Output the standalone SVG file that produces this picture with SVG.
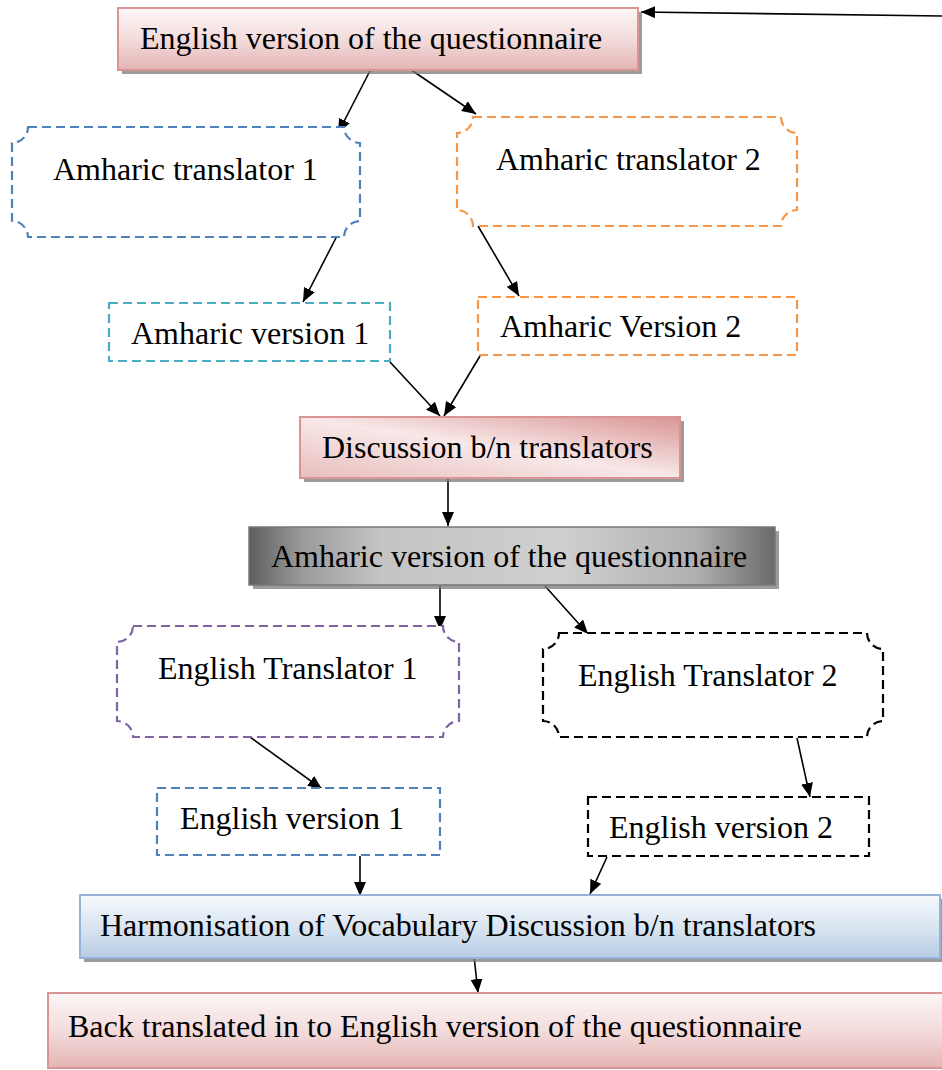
<svg xmlns="http://www.w3.org/2000/svg" width="942" height="1070" viewBox="0 0 942 1070">
  <defs>
    <style>
      text { font-family: "Liberation Serif", "Times New Roman", serif; font-size: 32px; fill: #000; }
      .conn line { stroke: #000; stroke-width: 1.6; marker-end: url(#arrow); }
      .shadow { fill: #7a7a7a; opacity: 0.75; }
      .dash { fill: #fff; stroke-width: 2.2; stroke-dasharray: 9 5; }
    </style>
    <marker id="arrow" viewBox="0 0 14 12" refX="14" refY="6" markerWidth="14" markerHeight="12" markerUnits="userSpaceOnUse" orient="auto">
      <path d="M0,0 L14,6 L0,12 Z" fill="#000"/>
    </marker>
    <linearGradient id="pinkV" x1="0" y1="0" x2="0" y2="1">
      <stop offset="0" stop-color="#fdf6f6"/>
      <stop offset="0.5" stop-color="#f3dcdc"/>
      <stop offset="1" stop-color="#e4b4b3"/>
    </linearGradient>
    <linearGradient id="pinkD" x1="0" y1="1" x2="1" y2="0">
      <stop offset="0" stop-color="#e8bebd"/>
      <stop offset="0.5" stop-color="#f8e8e8"/>
      <stop offset="1" stop-color="#d99594"/>
    </linearGradient>
    <linearGradient id="grayH" x1="0" y1="0" x2="1" y2="0">
      <stop offset="0" stop-color="#5e5e5e"/>
      <stop offset="0.1" stop-color="#9a9a9a"/>
      <stop offset="0.25" stop-color="#c4c4c4"/>
      <stop offset="0.6" stop-color="#cfcfcf"/>
      <stop offset="0.85" stop-color="#b0b0b0"/>
      <stop offset="1" stop-color="#6a6a6a"/>
    </linearGradient>
    <linearGradient id="blueV" x1="0" y1="0" x2="0" y2="1">
      <stop offset="0" stop-color="#f6f9fc"/>
      <stop offset="0.5" stop-color="#dae5f1"/>
      <stop offset="1" stop-color="#b8cce4"/>
    </linearGradient>
  </defs>

  <!-- connectors -->
  <g id="connectors" class="conn">
    <line x1="942" y1="16" x2="641" y2="12"/>
    <line x1="372" y1="67" x2="338" y2="133"/>
    <line x1="407" y1="67" x2="476" y2="114"/>
    <line x1="338" y1="234" x2="303" y2="302"/>
    <line x1="478" y1="226" x2="519" y2="296"/>
    <line x1="390" y1="362" x2="440" y2="416"/>
    <line x1="480" y1="356" x2="444" y2="416"/>
    <line x1="448" y1="478" x2="448" y2="526"/>
    <line x1="440" y1="586" x2="440" y2="630"/>
    <line x1="545" y1="586" x2="588" y2="634"/>
    <line x1="250" y1="737" x2="322" y2="789"/>
    <line x1="797" y1="738" x2="810" y2="797"/>
    <line x1="360" y1="856" x2="360" y2="896"/>
    <line x1="607" y1="857" x2="590" y2="894"/>
    <line x1="474" y1="956" x2="478" y2="993"/>
  </g>

  <!-- English version of the questionnaire -->
  <g id="english-source">
    <rect class="shadow" x="122" y="12" width="520" height="62"/>
    <rect x="118" y="8" width="520" height="62" fill="url(#pinkV)" stroke="#d99594" stroke-width="2"/>
    <text x="140" y="49">English version of the questionnaire</text>
  </g>

  <!-- Amharic translator 1 -->
  <g id="amharic-translator-1">
    <path class="dash" stroke="#4f81bd" d="M28,127 H344 A16,16 0 0 0 360,143 V221 A16,16 0 0 0 344,237 H28 A16,16 0 0 0 12,221 V143 A16,16 0 0 0 28,127 Z"/>
    <text x="53" y="180">Amharic translator 1</text>
  </g>

  <!-- Amharic translator 2 -->
  <g id="amharic-translator-2">
    <path class="dash" stroke="#f79646" d="M473,117 H781 A16,16 0 0 0 797,133 V210 A16,16 0 0 0 781,226 H473 A16,16 0 0 0 457,210 V133 A16,16 0 0 0 473,117 Z"/>
    <text x="496" y="170">Amharic translator 2</text>
  </g>

  <!-- Amharic version 1 -->
  <g id="amharic-version-1">
    <rect class="dash" stroke="#4bacc6" x="109" y="303" width="281" height="58"/>
    <text x="131" y="344">Amharic version 1</text>
  </g>

  <!-- Amharic Version 2 -->
  <g id="amharic-version-2">
    <rect class="dash" stroke="#f79646" x="478" y="297" width="319" height="58"/>
    <text x="500" y="337">Amharic Version 2</text>
  </g>

  <!-- Discussion b/n translators -->
  <g id="discussion">
    <rect class="shadow" x="304" y="421" width="380" height="61"/>
    <rect x="300" y="417" width="380" height="61" fill="url(#pinkD)" stroke="#d99594" stroke-width="2"/>
    <text x="322" y="458">Discussion b/n translators</text>
  </g>

  <!-- Amharic version of the questionnaire -->
  <g id="amharic-questionnaire">
    <rect class="shadow" x="253" y="531" width="526" height="58"/>
    <rect x="249" y="527" width="526" height="58" fill="url(#grayH)" stroke="#777" stroke-width="1.5"/>
    <text x="271" y="567">Amharic version of the questionnaire</text>
  </g>

  <!-- English Translator 1 -->
  <g id="english-translator-1">
    <path class="dash" stroke="#8064a2" d="M133,626 H443 A16,16 0 0 0 459,642 V721 A16,16 0 0 0 443,737 H133 A16,16 0 0 0 117,721 V642 A16,16 0 0 0 133,626 Z"/>
    <text x="158" y="679">English Translator 1</text>
  </g>

  <!-- English Translator 2 -->
  <g id="english-translator-2">
    <path class="dash" stroke="#000" d="M559,633 H867 A16,16 0 0 0 883,649 V721 A16,16 0 0 0 867,737 H559 A16,16 0 0 0 543,721 V649 A16,16 0 0 0 559,633 Z"/>
    <text x="578" y="686">English Translator 2</text>
  </g>

  <!-- English version 1 -->
  <g id="english-version-1">
    <rect class="dash" stroke="#4f81bd" x="157" y="788" width="283" height="67"/>
    <text x="180" y="829">English version 1</text>
  </g>

  <!-- English version 2 -->
  <g id="english-version-2">
    <rect class="dash" stroke="#000" x="588" y="797" width="281" height="59"/>
    <text x="609" y="838">English version 2</text>
  </g>

  <!-- Harmonisation of Vocabulary -->
  <g id="harmonisation">
    <rect class="shadow" x="84" y="899" width="860" height="63"/>
    <rect x="80" y="895" width="860" height="63" fill="url(#blueV)" stroke="#95b3d7" stroke-width="2"/>
    <text x="100" y="936">Harmonisation of Vocabulary Discussion b/n translators</text>
  </g>

  <!-- Back translated English version -->
  <g id="back-translated">
    <rect x="48" y="993" width="900" height="75" fill="url(#pinkV)" stroke="#d99594" stroke-width="2"/>
    <text x="68" y="1037">Back translated in to English version of the questionnaire</text>
  </g>
</svg>
